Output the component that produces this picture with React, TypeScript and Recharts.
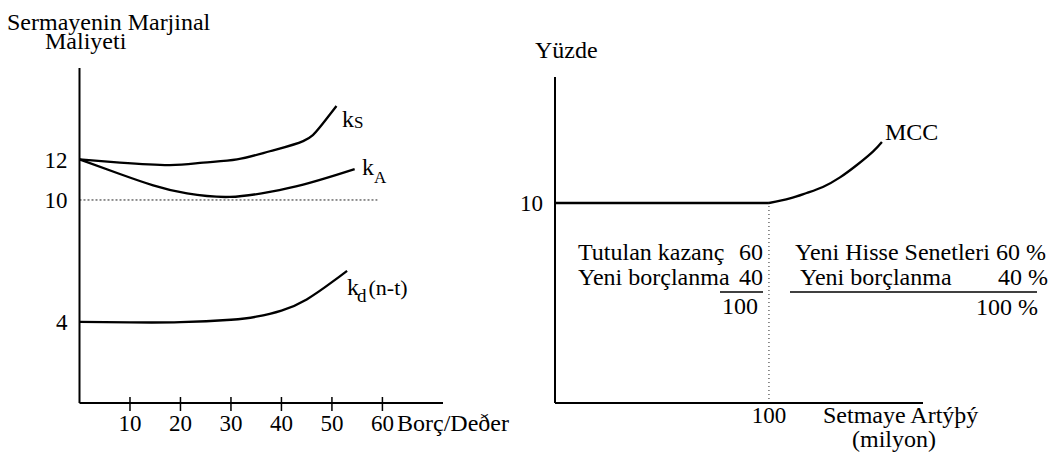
import React from 'react';
import { LineChart, Line, XAxis, YAxis, ReferenceLine } from 'recharts';

// ---- Left panel: cost of capital vs debt/value ----
const debtTicks = [10, 20, 30, 40, 50, 60];
const costTicks = [4, 10, 12];

const ksX = [0, 8, 17.9, 24.5, 31.2, 37.7, 44.3, 47.6, 50.9];
const ksY = [12, 11.84, 11.72, 11.84, 12, 12.4, 12.9, 13.58, 14.63];

const kaX = [0, 8, 14.6, 21.3, 29.8, 37.7, 44.3, 50.9, 54.5];
const kaY = [12, 11.28, 10.72, 10.32, 10.15, 10.4, 10.76, 11.24, 11.52];

const kdX = [0, 10, 20, 30, 35, 40, 45, 50, 53];
const kdY = [4, 3.97, 3.98, 4.1, 4.25, 4.55, 5.1, 5.95, 6.51];

// ---- Right panel: MCC vs capital raised ----
const capitalTicks = [100];
const percentTicks = [10];
const mccFlatX = [0, 100];
const mccFlatY = [10, 10];
const mccCurveX = [100, 109.8, 117.6, 125.2, 133.2, 141.1, 148.6, 152.8];
const mccCurveY = [10, 10.23, 10.5, 10.8, 11.28, 11.9, 12.57, 13.05];

const zip = (xs: number[], ys: number[]) => xs.map((x, i) => ({ x, y: ys[i] }));
const ksData = zip(ksX, ksY);
const kaData = zip(kaX, kaY);
const kdData = zip(kdX, kdY);
const mccFlat = zip(mccFlatX, mccFlatY);
const mccCurve = zip(mccCurveX, mccCurveY);

const FONT = "'Liberation Serif', 'Times New Roman', serif";
const txt: React.CSSProperties = { fontFamily: FONT, fontSize: 24 };
const num: React.CSSProperties = { fontFamily: FONT, fontSize: 23 };

const CrossTick = (props: any) => {
  const { x, y, payload } = props;
  return (
    <g>
      <line x1={x} x2={x} y1={y - 6} y2={y + 8} stroke="#000" strokeWidth={1.5} />
      <text x={x} y={y + 28} textAnchor="middle" style={num} fill="#000">
        {payload.value}
      </text>
    </g>
  );
};

const PlainTick = (props: any) => {
  const { x, y, payload } = props;
  return (
    <text x={x} y={y + 20} textAnchor="middle" style={num} fill="#000">
      {payload.value}
    </text>
  );
};

const yTick = { fontSize: 23, fill: '#000', fontFamily: FONT };

export default function App() {
  return (
    <div style={{ position: 'absolute', left: 0, top: 0, width: 1063, height: 455, background: '#fff', fontFamily: FONT }}>
      <div style={{ position: 'absolute', left: 0, top: 0 }}>
        <LineChart width={470} height={455} margin={{ top: 68, right: 27, bottom: 0, left: 0 }}>
          <XAxis
            type="number"
            dataKey="x"
            domain={[0, 72]}
            ticks={debtTicks}
            tick={<CrossTick />}
            tickLine={false}
            tickSize={0}
            tickMargin={0}
            height={52}
            axisLine={{ stroke: '#000', strokeWidth: 2 }}
            allowDataOverflow
          />
          <YAxis
            type="number"
            domain={[0, 16.5]}
            ticks={costTicks}
            tick={yTick}
            tickLine={false}
            tickSize={0}
            tickMargin={12}
            width={79.5}
            axisLine={{ stroke: '#000', strokeWidth: 2 }}
            allowDataOverflow
          />
          <ReferenceLine
            segment={[{ x: 0, y: 10 }, { x: 59, y: 10 }]}
            stroke="#222"
            strokeWidth={1}
            strokeDasharray="2 2"
          />
          <Line data={ksData} dataKey="y" type="natural" stroke="#000" strokeWidth={2.3} dot={false} isAnimationActive={false} />
          <Line data={kaData} dataKey="y" type="natural" stroke="#000" strokeWidth={2.3} dot={false} isAnimationActive={false} />
          <Line data={kdData} dataKey="y" type="natural" stroke="#000" strokeWidth={2.3} dot={false} isAnimationActive={false} />
        </LineChart>
      </div>
      <div style={{ position: 'absolute', left: 470, top: 0 }}>
        <LineChart width={593} height={455} margin={{ top: 77, right: 140, bottom: 0, left: 0 }}>
          <XAxis
            type="number"
            dataKey="x"
            domain={[0, 172]}
            ticks={capitalTicks}
            tick={<PlainTick />}
            tickLine={false}
            tickSize={0}
            tickMargin={0}
            height={52}
            axisLine={{ stroke: '#000', strokeWidth: 2 }}
            allowDataOverflow
          />
          <YAxis
            type="number"
            domain={[0, 16.3]}
            ticks={percentTicks}
            tick={yTick}
            tickLine={false}
            tickSize={0}
            tickMargin={12}
            width={85}
            axisLine={{ stroke: '#000', strokeWidth: 2 }}
            allowDataOverflow
          />
          <ReferenceLine
            segment={[{ x: 100, y: 0 }, { x: 100, y: 10 }]}
            stroke="#222"
            strokeWidth={1}
            strokeDasharray="1 3"
          />
          <Line data={mccFlat} dataKey="y" type="linear" stroke="#000" strokeWidth={2.3} dot={false} isAnimationActive={false} />
          <Line data={mccCurve} dataKey="y" type="natural" stroke="#000" strokeWidth={2.3} dot={false} isAnimationActive={false} />
        </LineChart>
      </div>
      <svg
        width={1063}
        height={455}
        style={{ position: 'absolute', left: 0, top: 0, pointerEvents: 'none', fontFamily: FONT }}
        fill="#000"
      >
        <text x={7} y={30} style={txt}>Sermayenin Marjinal</text>
        <text x={45} y={49} style={txt}>Maliyeti</text>
        <text x={397} y={431} style={txt}>Borç/Deðer</text>
        <text x={342} y={127} style={txt}>k<tspan style={{ fontSize: 17 }} dy={1}>S</tspan></text>
        <text x={362} y={175} style={txt}>k<tspan style={{ fontSize: 17 }} dy={8}>A</tspan></text>
        <text x={347} y={295} style={txt}>
          k<tspan style={{ fontSize: 19 }} dy={7} dx={-2}>d</tspan>
          <tspan style={{ fontSize: 22 }} dy={-7} dx={2}>(n-t)</tspan>
        </text>

        <text x={535} y={58} style={txt}>Yüzde</text>
        <text x={885} y={140} style={txt}>MCC</text>

        <text x={578} y={260} style={txt}>Tutulan kazanç</text>
        <text x={763} y={260} style={txt} textAnchor="end">60</text>
        <text x={578} y={285} style={txt}>Yeni borçlanma</text>
        <text x={763} y={285} style={txt} textAnchor="end">40</text>
        <line x1={720} x2={763} y1={292} y2={292} stroke="#000" strokeWidth={1.5} />
        <text x={758} y={314} style={txt} textAnchor="end">100</text>

        <text x={795} y={260} style={txt}>Yeni Hisse Senetleri 60 %</text>
        <text x={800} y={285} style={txt}>Yeni borçlanma</text>
        <text x={1048} y={285} style={txt} textAnchor="end">40 %</text>
        <line x1={790} x2={1037} y1={292} y2={292} stroke="#000" strokeWidth={1.5} />
        <text x={1038} y={315} style={txt} textAnchor="end">100 %</text>

        <text x={823} y={423} style={txt}>Setmaye Artýþý</text>
        <text x={894} y={447} style={txt} textAnchor="middle">(milyon)</text>
      </svg>
    </div>
  );
}
